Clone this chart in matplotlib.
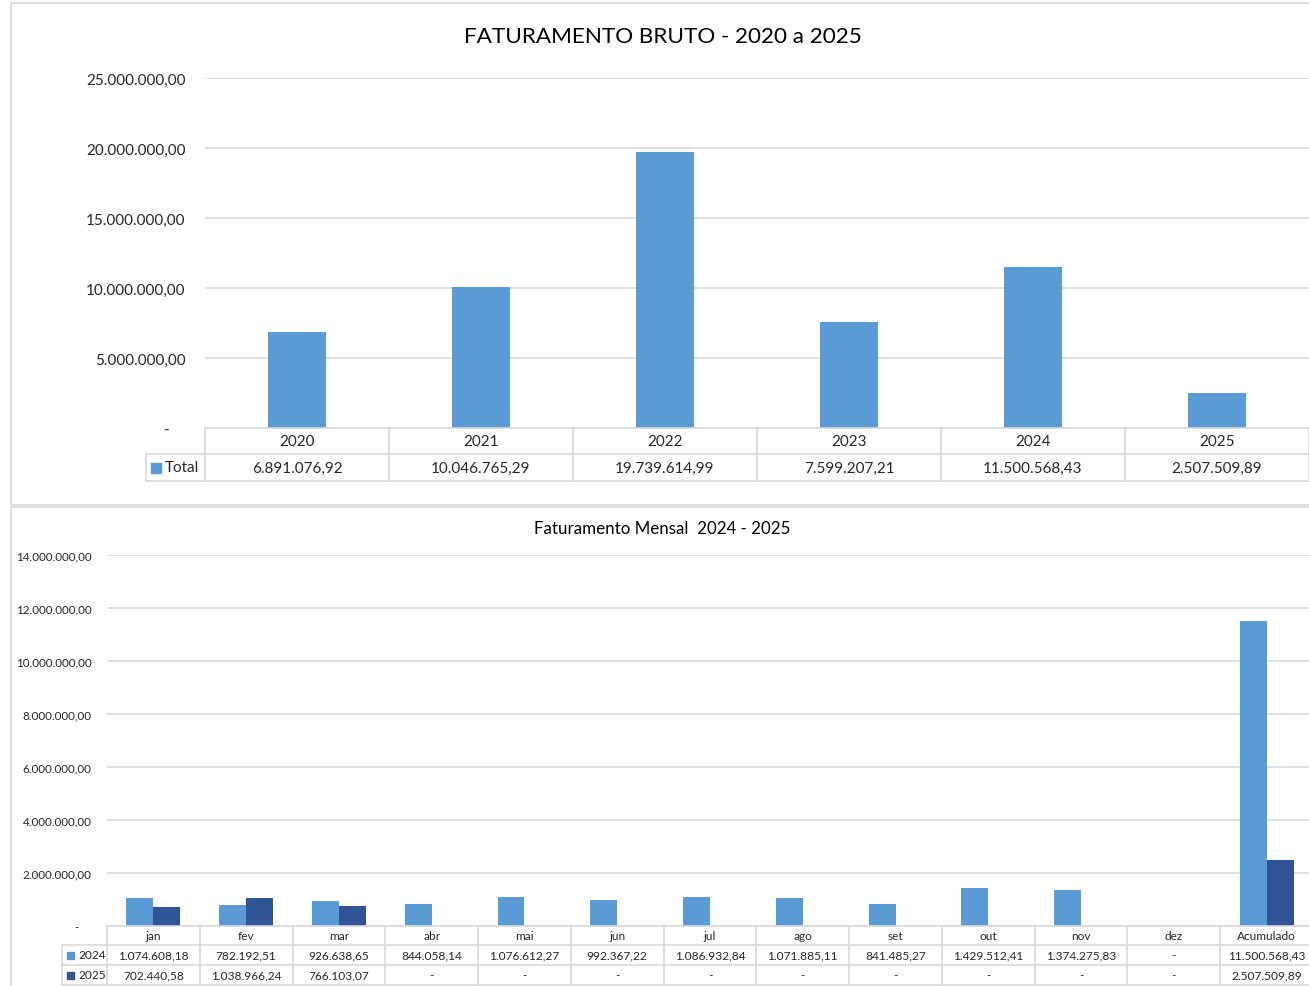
import matplotlib
matplotlib.use("Agg")
import matplotlib.pyplot as plt
from matplotlib.transforms import blended_transform_factory
from matplotlib.lines import Line2D
from matplotlib.patches import Rectangle

plt.rcParams['font.family'] = ['Lato', 'DejaVu Sans']

# data
years = ['2020', '2021', '2022', '2023', '2024', '2025']
totals = [6891076.92, 10046765.29, 19739614.99, 7599207.21, 11500568.43, 2507509.89]

months = ['jan', 'fev', 'mar', 'abr', 'mai', 'jun', 'jul', 'ago', 'set', 'out', 'nov', 'dez', 'Acumulado']
v2024 = [1074608.18, 782192.51, 926638.65, 844058.14, 1076612.27, 992367.22, 1086932.84,
         1071885.11, 841485.27, 1429512.41, 1374275.83, 0, 11500568.43]
v2025 = [702440.58, 1038966.24, 766103.07, 0, 0, 0, 0, 0, 0, 0, 0, 0, 2507509.89]

C1 = '#5B9BD5'
C2 = '#2F5597'
GRID = '#D9D9D9'
TXT = '#262626'

W, H = 1309, 987


def br(v):
    if not v:
        return '-'
    s = f"{v:,.2f}"
    return s.replace(',', 'X').replace('.', ',').replace('X', '.')


def box(l, t, r, b):
    return [l / W, 1 - b / H, (r - l) / W, (b - t) / H]


fig = plt.figure(figsize=(W / 100, H / 100), dpi=100)

# chart frames
for (l, t, r, b) in [(11, 4, 1315, 506), (11, 508, 1315, 995)]:
    fig.add_artist(Rectangle((l / W, 1 - b / H), (r - l) / W, (b - t) / H,
                             transform=fig.transFigure, fill=False, ec=GRID, lw=1.2))


def draw_table(ax, cats, rows, row_px, ax_h, leg_px, col_px, fs, sq):
    tr = blended_transform_factory(ax.transData, ax.transAxes)
    ys = [0]
    for h in row_px:
        ys.append(ys[-1] - h / ax_h)
    n = len(cats)
    legw = leg_px / col_px
    kw = dict(transform=tr, clip_on=False, color=GRID, lw=1.2)
    # horizontal lines
    ax.add_line(Line2D([-0.5, n - 0.5], [ys[0], ys[0]], **kw))
    for y in ys[1:]:
        ax.add_line(Line2D([-0.5 - legw, n - 0.5], [y, y], **kw))
    # vertical lines
    for i in range(n + 1):
        ax.add_line(Line2D([i - 0.5, i - 0.5], [ys[0], ys[-1]], **kw))
    ax.add_line(Line2D([-0.5 - legw, -0.5 - legw], [ys[1], ys[-1]], **kw))
    # header
    for i, c in enumerate(cats):
        ax.text(i, (ys[0] + ys[1]) / 2, c, transform=tr, ha='center', va='center',
                fontsize=fs, color=TXT, clip_on=False)
    for r, (name, color, vals) in enumerate(rows):
        yc = (ys[r + 1] + ys[r + 2]) / 2
        for i, v in enumerate(vals):
            ax.text(i, yc, br(v), transform=tr, ha='center', va='center',
                    fontsize=fs, color=TXT, clip_on=False)
        x0 = -0.5 - legw + sq[0] / col_px
        ax.add_patch(Rectangle((x0, yc - sq[1] / ax_h / 2), sq[1] / col_px, sq[1] / ax_h,
                               transform=tr, color=color, clip_on=False))
        ax.text(x0 + (sq[1] + 4) / col_px, yc, name, transform=tr, ha='left', va='center',
                fontsize=fs, color=TXT, clip_on=False)


def style_axes(ax, ticks, pad, fs):
    ax.set_yticks(ticks)
    ax.set_yticklabels(['-    '] + [br(t) for t in ticks[1:]], fontsize=fs, color=TXT)
    ax.tick_params(axis='y', length=0, pad=pad)
    ax.set_xticks([])
    for s in ['top', 'right', 'left', 'bottom']:
        ax.spines[s].set_visible(False)
    ax.grid(axis='y', color=GRID, lw=1.2)
    ax.set_axisbelow(True)


# top chart
ax1 = fig.add_axes(box(205, 79, 1309, 429))
x1 = range(len(years))
ax1.bar(x1, totals, width=0.31, color=C1)
ax1.set_xlim(-0.5, len(years) - 0.5)
ax1.set_ylim(0, 25000000)
style_axes(ax1, [0, 5000000, 10000000, 15000000, 20000000, 25000000], 14, 11)
draw_table(ax1, years, [('Total', C1, totals)], [26, 27], 350, 59, 184, 11, (5, 10))
fig.text(663 / W, 1 - 37 / H, 'FATURAMENTO BRUTO - 2020 a 2025', ha='center', va='center',
         fontsize=16.2, color='black')

# bottom chart
ax2 = fig.add_axes(box(107, 556, 1313, 927))
x2 = list(range(len(months)))
bw = 0.29
ax2.bar([x - bw / 2 for x in x2], v2024, width=bw, color=C1, label='2024')
ax2.bar([x + bw / 2 for x in x2], v2025, width=bw, color=C2, label='2025')
ax2.set_xlim(-0.5, len(months) - 0.5)
ax2.set_ylim(0, 14000000)
style_axes(ax2, list(range(0, 14000001, 2000000)), 11, 8.4)
draw_table(ax2, months, [('2024', C1, v2024), ('2025', C2, v2025)], [19, 20, 20], 371, 45,
           92.8, 8.6, (5, 7))
fig.text(662 / W, 1 - 529 / H, 'Faturamento Mensal  2024 - 2025', ha='center', va='center',
         fontsize=12.2, color='black')

fig.savefig('out.png', dpi=100)
